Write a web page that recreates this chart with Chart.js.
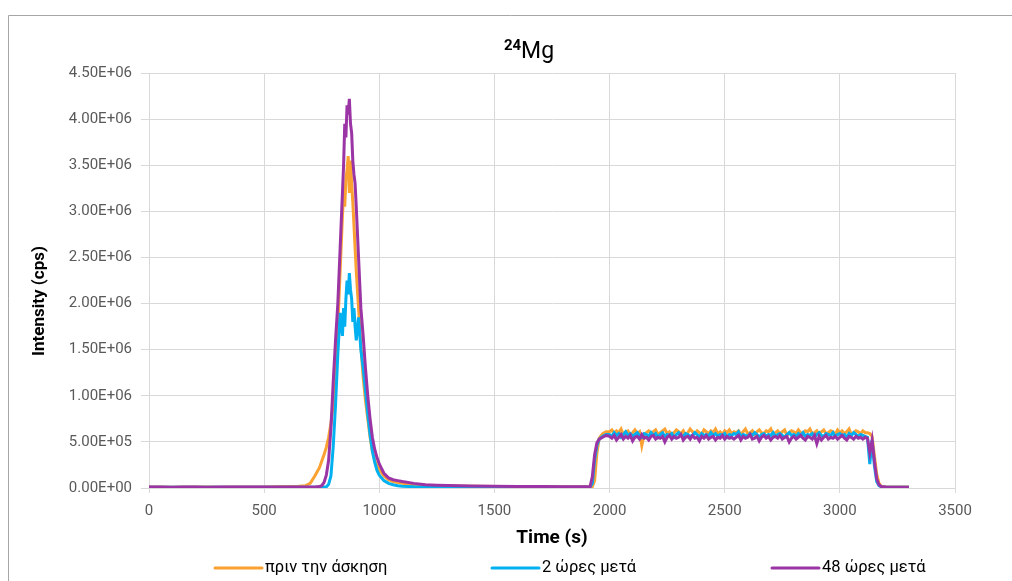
<!DOCTYPE html>
<html>
<head>
<meta charset="utf-8">
<script src="https://cdn.jsdelivr.net/npm/chart.js@4.4.1/dist/chart.umd.min.js"></script>
<style>
  html, body { margin: 0; padding: 0; background: #fff; }
  #wrap { width: 1012px; height: 581px; }
</style>
</head>
<body>
<div id="wrap"><canvas id="chart" width="1012" height="581"></canvas></div>
<script>
// time axis (s), shared by all three runs
const time = [
  0, 50, 100, 150, 200, 250, 300, 350, 400, 450, 500, 550, 600, 650,
  680, 700, 720, 740, 750, 760, 770, 780, 790, 800, 810, 820, 830, 840, 845, 850,
  855, 860, 865, 870, 875, 880, 885, 890, 895, 900, 910, 920, 930, 940, 950, 960,
  970, 980, 990, 1000, 1020, 1040, 1060, 1080, 1100, 1150, 1200, 1250, 1300, 1400,
  1500, 1600, 1700, 1800, 1900,
  1915, 1925, 1935, 1945, 1955, 1970, 1985,
  2000, 2010, 2020, 2030, 2040, 2050, 2060, 2070, 2080, 2090,
  2100, 2110, 2120, 2130, 2140, 2150, 2160, 2170, 2180, 2190,
  2200, 2210, 2220, 2230, 2240, 2250, 2260, 2270, 2280, 2290,
  2300, 2310, 2320, 2330, 2340, 2350, 2360, 2370, 2380, 2390,
  2400, 2410, 2420, 2430, 2440, 2450, 2460, 2470, 2480, 2490,
  2500, 2510, 2520, 2530, 2540, 2550, 2560, 2570, 2580, 2590,
  2600, 2610, 2620, 2630, 2640, 2650, 2660, 2670, 2680, 2690,
  2700, 2710, 2720, 2730, 2740, 2750, 2760, 2770, 2780, 2790,
  2800, 2810, 2820, 2830, 2840, 2850, 2860, 2870, 2880, 2890,
  2900, 2910, 2920, 2930, 2940, 2950, 2960, 2970, 2980, 2990,
  3000, 3010, 3020, 3030, 3040, 3050, 3060, 3070, 3080, 3090,
  3100, 3110,
  3120, 3130, 3140, 3150, 3160, 3170, 3180, 3200, 3250, 3300
];

// πριν την άσκηση
const before = [
  1.2e4, 1.0e4, 0.9e4, 1.0e4, 1.1e4, 1.0e4, 0.9e4, 1.0e4, 1.1e4, 1.2e4, 1.2e4, 1.3e4, 1.5e4, 1.8e4,
  2.5e4, 5.0e4, 1.3e5, 2.2e5, 2.9e5, 3.6e5, 4.4e5, 5.5e5, 7.0e5, 9.0e5, 1.25e6, 1.75e6, 2.35e6, 2.95e6, 3.2e6, 3.05e6,
  3.35e6, 3.45e6, 3.6e6, 3.2e6, 3.55e6, 3.3e6, 3.1e6, 2.85e6, 2.6e6, 2.35e6, 1.95e6, 1.55e6, 1.2e6, 9.5e5, 7.5e5, 5.5e5,
  4.0e5, 3.0e5, 2.4e5, 2.0e5, 1.3e5, 9.0e4, 7.0e4, 6.0e4, 5.0e4, 3.6e4, 2.9e4, 2.4e4, 2.1e4, 1.8e4,
  1.6e4, 1.5e4, 1.4e4, 1.3e4, 1.3e4,
  1.3e4, 1.5e4, 8.0e4, 3.8e5, 5.4e5, 5.9e5, 6.1e5,
  6.1e5, 6.3e5, 5.9e5, 6.2e5, 6.0e5, 6.4e5, 5.8e5, 6.1e5, 6.2e5, 5.7e5,
  6.0e5, 6.3e5, 5.9e5, 6.1e5, 4.6e5, 5.8e5, 6.0e5, 6.2e5, 5.9e5, 6.1e5,
  6.3e5, 5.8e5, 6.0e5, 6.2e5, 6.4e5, 5.9e5, 6.1e5, 5.8e5, 6.0e5, 6.3e5,
  6.1e5, 5.9e5, 6.2e5, 5.7e5, 6.0e5, 6.4e5, 6.1e5, 5.9e5, 6.2e5, 6.0e5,
  5.8e5, 6.3e5, 6.1e5, 5.9e5, 6.2e5, 6.0e5, 6.4e5, 5.9e5, 6.1e5, 5.8e5,
  6.2e5, 6.0e5, 6.3e5, 5.9e5, 6.1e5, 6.0e5, 6.2e5, 5.8e5, 6.1e5, 6.4e5,
  5.9e5, 6.0e5, 6.2e5, 5.8e5, 6.1e5, 6.3e5, 6.0e5, 5.9e5, 6.2e5, 6.1e5,
  6.4e5, 5.8e5, 6.0e5, 6.2e5, 5.9e5, 6.1e5, 6.3e5, 5.7e5, 6.0e5, 6.2e5,
  6.1e5, 5.9e5, 6.3e5, 6.0e5, 5.8e5, 6.2e5, 6.1e5, 6.4e5, 5.9e5, 6.0e5,
  6.2e5, 5.8e5, 6.1e5, 6.3e5, 5.9e5, 6.0e5, 6.2e5, 6.1e5, 5.8e5, 6.3e5,
  6.0e5, 6.2e5, 5.9e5, 6.1e5, 6.4e5, 5.8e5, 6.0e5, 6.2e5, 6.1e5, 5.9e5,
  6.2e5, 6.0e5,
  6.0e5, 5.9e5, 5.6e5, 3.5e5, 1.5e5, 5.0e4, 2.0e4, 1.2e4, 1.0e4, 1.0e4
];

// 2 ώρες μετά
const after2h = [
  0.8e4, 0.8e4, 0.7e4, 0.8e4, 0.8e4, 0.7e4, 0.8e4, 0.8e4, 0.7e4, 0.8e4, 0.8e4, 0.8e4, 0.8e4, 0.8e4,
  0.8e4, 0.8e4, 0.8e4, 0.8e4, 0.9e4, 1.0e4, 1.2e4, 4.0e4, 1.3e5, 4.5e5, 9.0e5, 1.45e6, 1.9e6, 1.65e6, 1.95e6, 1.75e6,
  2.05e6, 2.25e6, 2.1e6, 2.33e6, 2.15e6, 2.05e6, 1.8e6, 1.95e6, 1.75e6, 1.6e6, 1.85e6, 1.5e6, 1.3e6, 1.05e6, 8.0e5, 5.8e5,
  4.0e5, 2.8e5, 1.9e5, 1.4e5, 8.0e4, 5.0e4, 3.5e4, 2.5e4, 2.0e4, 1.3e4, 1.1e4, 1.0e4, 0.9e4, 0.9e4,
  0.8e4, 0.8e4, 0.8e4, 0.8e4, 0.8e4,
  1.0e4, 5.0e4, 3.0e5, 4.6e5, 5.3e5, 5.6e5, 5.8e5,
  5.8e5, 5.6e5, 6.0e5, 5.7e5, 5.9e5, 5.5e5, 5.8e5, 6.1e5, 5.7e5, 5.9e5,
  5.6e5, 5.8e5, 6.0e5, 5.7e5, 5.5e5, 5.9e5, 5.8e5, 5.6e5, 6.0e5, 5.7e5,
  5.9e5, 5.5e5, 5.8e5, 6.0e5, 5.6e5, 5.8e5, 5.7e5, 5.9e5, 5.5e5, 5.8e5,
  6.0e5, 5.7e5, 5.6e5, 5.9e5, 5.8e5, 5.6e5, 5.7e5, 6.0e5, 5.8e5, 5.5e5,
  5.9e5, 5.7e5, 5.8e5, 5.6e5, 6.0e5, 5.7e5, 5.9e5, 5.6e5, 5.8e5, 5.7e5,
  5.9e5, 5.5e5, 5.8e5, 5.7e5, 5.9e5, 5.8e5, 6.1e5, 5.6e5, 5.8e5, 5.7e5,
  5.6e5, 5.9e5, 5.7e5, 6.0e5, 5.8e5, 5.5e5, 5.8e5, 5.9e5, 5.6e5, 5.8e5,
  5.7e5, 6.0e5, 5.6e5, 5.8e5, 5.9e5, 5.7e5, 5.5e5, 5.8e5, 6.0e5, 5.7e5,
  5.8e5, 5.6e5, 5.9e5, 5.7e5, 6.0e5, 5.6e5, 5.8e5, 5.7e5, 5.9e5, 5.5e5,
  5.8e5, 6.0e5, 5.7e5, 5.6e5, 5.9e5, 5.8e5, 5.7e5, 6.0e5, 5.6e5, 5.8e5,
  5.9e5, 5.7e5, 5.8e5, 5.5e5, 5.9e5, 5.7e5, 6.0e5, 5.8e5, 5.6e5, 5.8e5,
  5.7e5, 5.6e5,
  5.5e5, 2.6e5, 5.2e5, 2.4e5, 7.0e4, 2.5e4, 1.2e4, 0.8e4, 0.7e4, 0.7e4
];

// 48 ώρες μετά
const after48h = [
  1.0e4, 1.0e4, 0.9e4, 1.0e4, 1.0e4, 0.9e4, 1.0e4, 1.0e4, 1.0e4, 1.0e4, 1.0e4, 1.0e4, 1.0e4, 1.0e4,
  1.0e4, 1.0e4, 1.1e4, 1.5e4, 2.5e4, 6.0e4, 1.4e5, 3.0e5, 6.5e5, 1.15e6, 1.6e6, 2.0e6, 2.6e6, 3.2e6, 3.5e6, 3.95e6,
  3.8e6, 4.15e6, 4.05e6, 4.22e6, 3.95e6, 3.85e6, 3.55e6, 3.4e6, 3.3e6, 3.05e6, 2.5e6, 1.95e6, 1.65e6, 1.3e6, 1.0e6, 7.5e5,
  5.5e5, 4.2e5, 3.3e5, 2.6e5, 1.6e5, 1.1e5, 9.0e4, 8.0e4, 7.0e4, 5.0e4, 3.5e4, 3.0e4, 2.6e4, 2.2e4,
  1.9e4, 1.7e4, 1.5e4, 1.4e4, 1.3e4,
  1.2e4, 1.2e5, 3.6e5, 4.9e5, 5.3e5, 5.5e5, 5.7e5,
  5.6e5, 5.4e5, 5.7e5, 5.2e5, 5.5e5, 5.8e5, 5.3e5, 5.6e5, 5.4e5, 5.7e5,
  5.1e5, 5.5e5, 5.6e5, 5.3e5, 5.8e5, 5.4e5, 5.5e5, 5.2e5, 5.6e5, 5.7e5,
  5.3e5, 5.5e5, 5.4e5, 5.6e5, 5.0e5, 5.5e5, 5.7e5, 5.3e5, 5.6e5, 5.4e5,
  5.5e5, 5.8e5, 5.2e5, 5.5e5, 5.6e5, 5.3e5, 5.7e5, 5.4e5, 5.5e5, 5.1e5,
  5.6e5, 5.4e5, 5.7e5, 5.3e5, 5.5e5, 5.6e5, 5.2e5, 5.5e5, 5.4e5, 5.7e5,
  5.3e5, 5.6e5, 5.4e5, 5.5e5, 5.3e5, 5.5e5, 5.7e5, 5.2e5, 5.6e5, 5.4e5,
  5.5e5, 5.8e5, 5.3e5, 5.4e5, 5.6e5, 5.1e5, 5.5e5, 5.7e5, 5.4e5, 5.6e5,
  5.2e5, 5.5e5, 5.6e5, 5.4e5, 5.7e5, 5.3e5, 5.5e5, 5.6e5, 5.0e5, 5.4e5,
  5.6e5, 5.3e5, 5.5e5, 5.7e5, 5.4e5, 5.2e5, 5.6e5, 5.5e5, 5.3e5, 5.7e5,
  4.8e5, 5.6e5, 5.2e5, 5.5e5, 5.7e5, 5.3e5, 5.5e5, 5.4e5, 5.6e5, 5.3e5,
  5.5e5, 5.7e5, 5.4e5, 5.2e5, 5.6e5, 5.5e5, 5.3e5, 5.6e5, 5.4e5, 5.5e5,
  5.3e5, 5.5e5,
  5.4e5, 3.8e5, 5.2e5, 2.9e5, 1.0e5, 3.5e4, 1.5e4, 1.0e4, 0.9e4, 0.9e4
];

const seriesNames = ["πριν την άσκηση", "2 ώρες μετά", "48 ώρες μετά"];
const seriesColors = ["#FBA132", "#00B0F0", "#9B34A4"];
const xTicks = [0, 500, 1000, 1500, 2000, 2500, 3000, 3500];
const yMax = 4.5e6;
const yStep = 5e5;

const FONT = "Roboto, 'Noto Sans', sans-serif";
const GRID = "#d9d9d9";

function sci(v) {
  const [m, e] = v.toExponential(2).split("e");
  const n = Math.abs(parseInt(e, 10));
  return m + "E" + (e[0] === "-" ? "-" : "+") + String(n).padStart(2, "0");
}

function points(ys) {
  return time.map((t, i) => ({ x: t, y: ys[i] }));
}

// frame, title, y title and legend the way the spreadsheet draws them
const decor = {
  id: "decor",
  beforeDraw(chart) {
    const c = chart.ctx;
    c.save();
    c.strokeStyle = "#a6a6a6";
    c.lineWidth = 1;
    c.beginPath();
    c.moveTo(8.5, 581);
    c.lineTo(8.5, 15.5);
    c.lineTo(1012, 15.5);
    c.stroke();
    c.restore();
  },
  afterDraw(chart) {
    const c = chart.ctx;
    c.save();
    // title: superscript 24 + Mg
    c.fillStyle = "#000";
    c.textBaseline = "alphabetic";
    c.font = "bold 15px " + FONT;
    const w24 = c.measureText("24").width;
    c.font = "23px " + FONT;
    const wMg = c.measureText("Mg").width;
    const x0 = 529 - (w24 + wMg) / 2;
    c.font = "bold 15px " + FONT;
    c.fillText("24", x0, 50);
    c.font = "23px " + FONT;
    c.fillText("Mg", x0 + w24, 58);

    // y axis title
    c.save();
    c.translate(40, 301);
    c.rotate(-Math.PI / 2);
    c.font = "bold 17px " + FONT;
    c.textAlign = "center";
    c.textBaseline = "middle";
    c.fillText("Intensity (cps)", 0, 0);
    c.restore();

    // legend
    const slots = [213, 490, 770];
    c.lineCap = "round";
    c.lineWidth = 3;
    c.font = "16.5px " + FONT;
    c.textBaseline = "middle";
    chart.data.datasets.forEach((ds, i) => {
      const x = slots[i];
      c.strokeStyle = ds.borderColor;
      c.beginPath();
      c.moveTo(x + 2, 568);
      c.lineTo(x + 49, 568);
      c.stroke();
      c.fillStyle = "#000";
      c.fillText(ds.label, x + 52, 568);
    });
    c.restore();
  }
};

new Chart(document.getElementById("chart"), {
  type: "line",
  data: {
    datasets: [before, after2h, after48h].map((ys, i) => ({
      label: seriesNames[i],
      data: points(ys),
      borderColor: seriesColors[i],
      backgroundColor: seriesColors[i],
      borderWidth: 3,
      pointRadius: 0,
      tension: 0,
      order: 3 - i
    }))
  },
  options: {
    responsive: false,
    animation: false,
    events: [],
    layout: { padding: { left: 30, right: 57, top: 73, bottom: 34 } },
    plugins: {
      legend: { display: false },
      title: { display: false },
      tooltip: { enabled: false }
    },
    scales: {
      x: {
        type: "linear",
        min: 0,
        max: 3500,
        afterFit: s => { s.height = 59; },
        afterBuildTicks: s => { s.ticks = xTicks.map(v => ({ value: v })); },
        grid: { color: GRID, lineWidth: 1, tickLength: 5, drawTicks: true },
        border: { color: GRID },
        ticks: { color: "#595959", font: { family: FONT, size: 15 }, padding: 9, maxRotation: 0, callback: v => String(v) },
        title: { display: true, text: "Time (s)", color: "#000", font: { family: FONT, size: 19, weight: "bold" }, padding: { top: 0, bottom: -3 } }
      },
      y: {
        min: 0,
        max: yMax,
        afterFit: s => { s.width = 119; },
        grid: { color: GRID, lineWidth: 1, tickLength: 8, drawTicks: true },
        border: { color: GRID },
        ticks: { stepSize: yStep, color: "#595959", font: { family: FONT, size: 15 }, padding: 9, callback: v => sci(v) }
      }
    }
  },
  plugins: [decor]
});
</script>
</body>
</html>
